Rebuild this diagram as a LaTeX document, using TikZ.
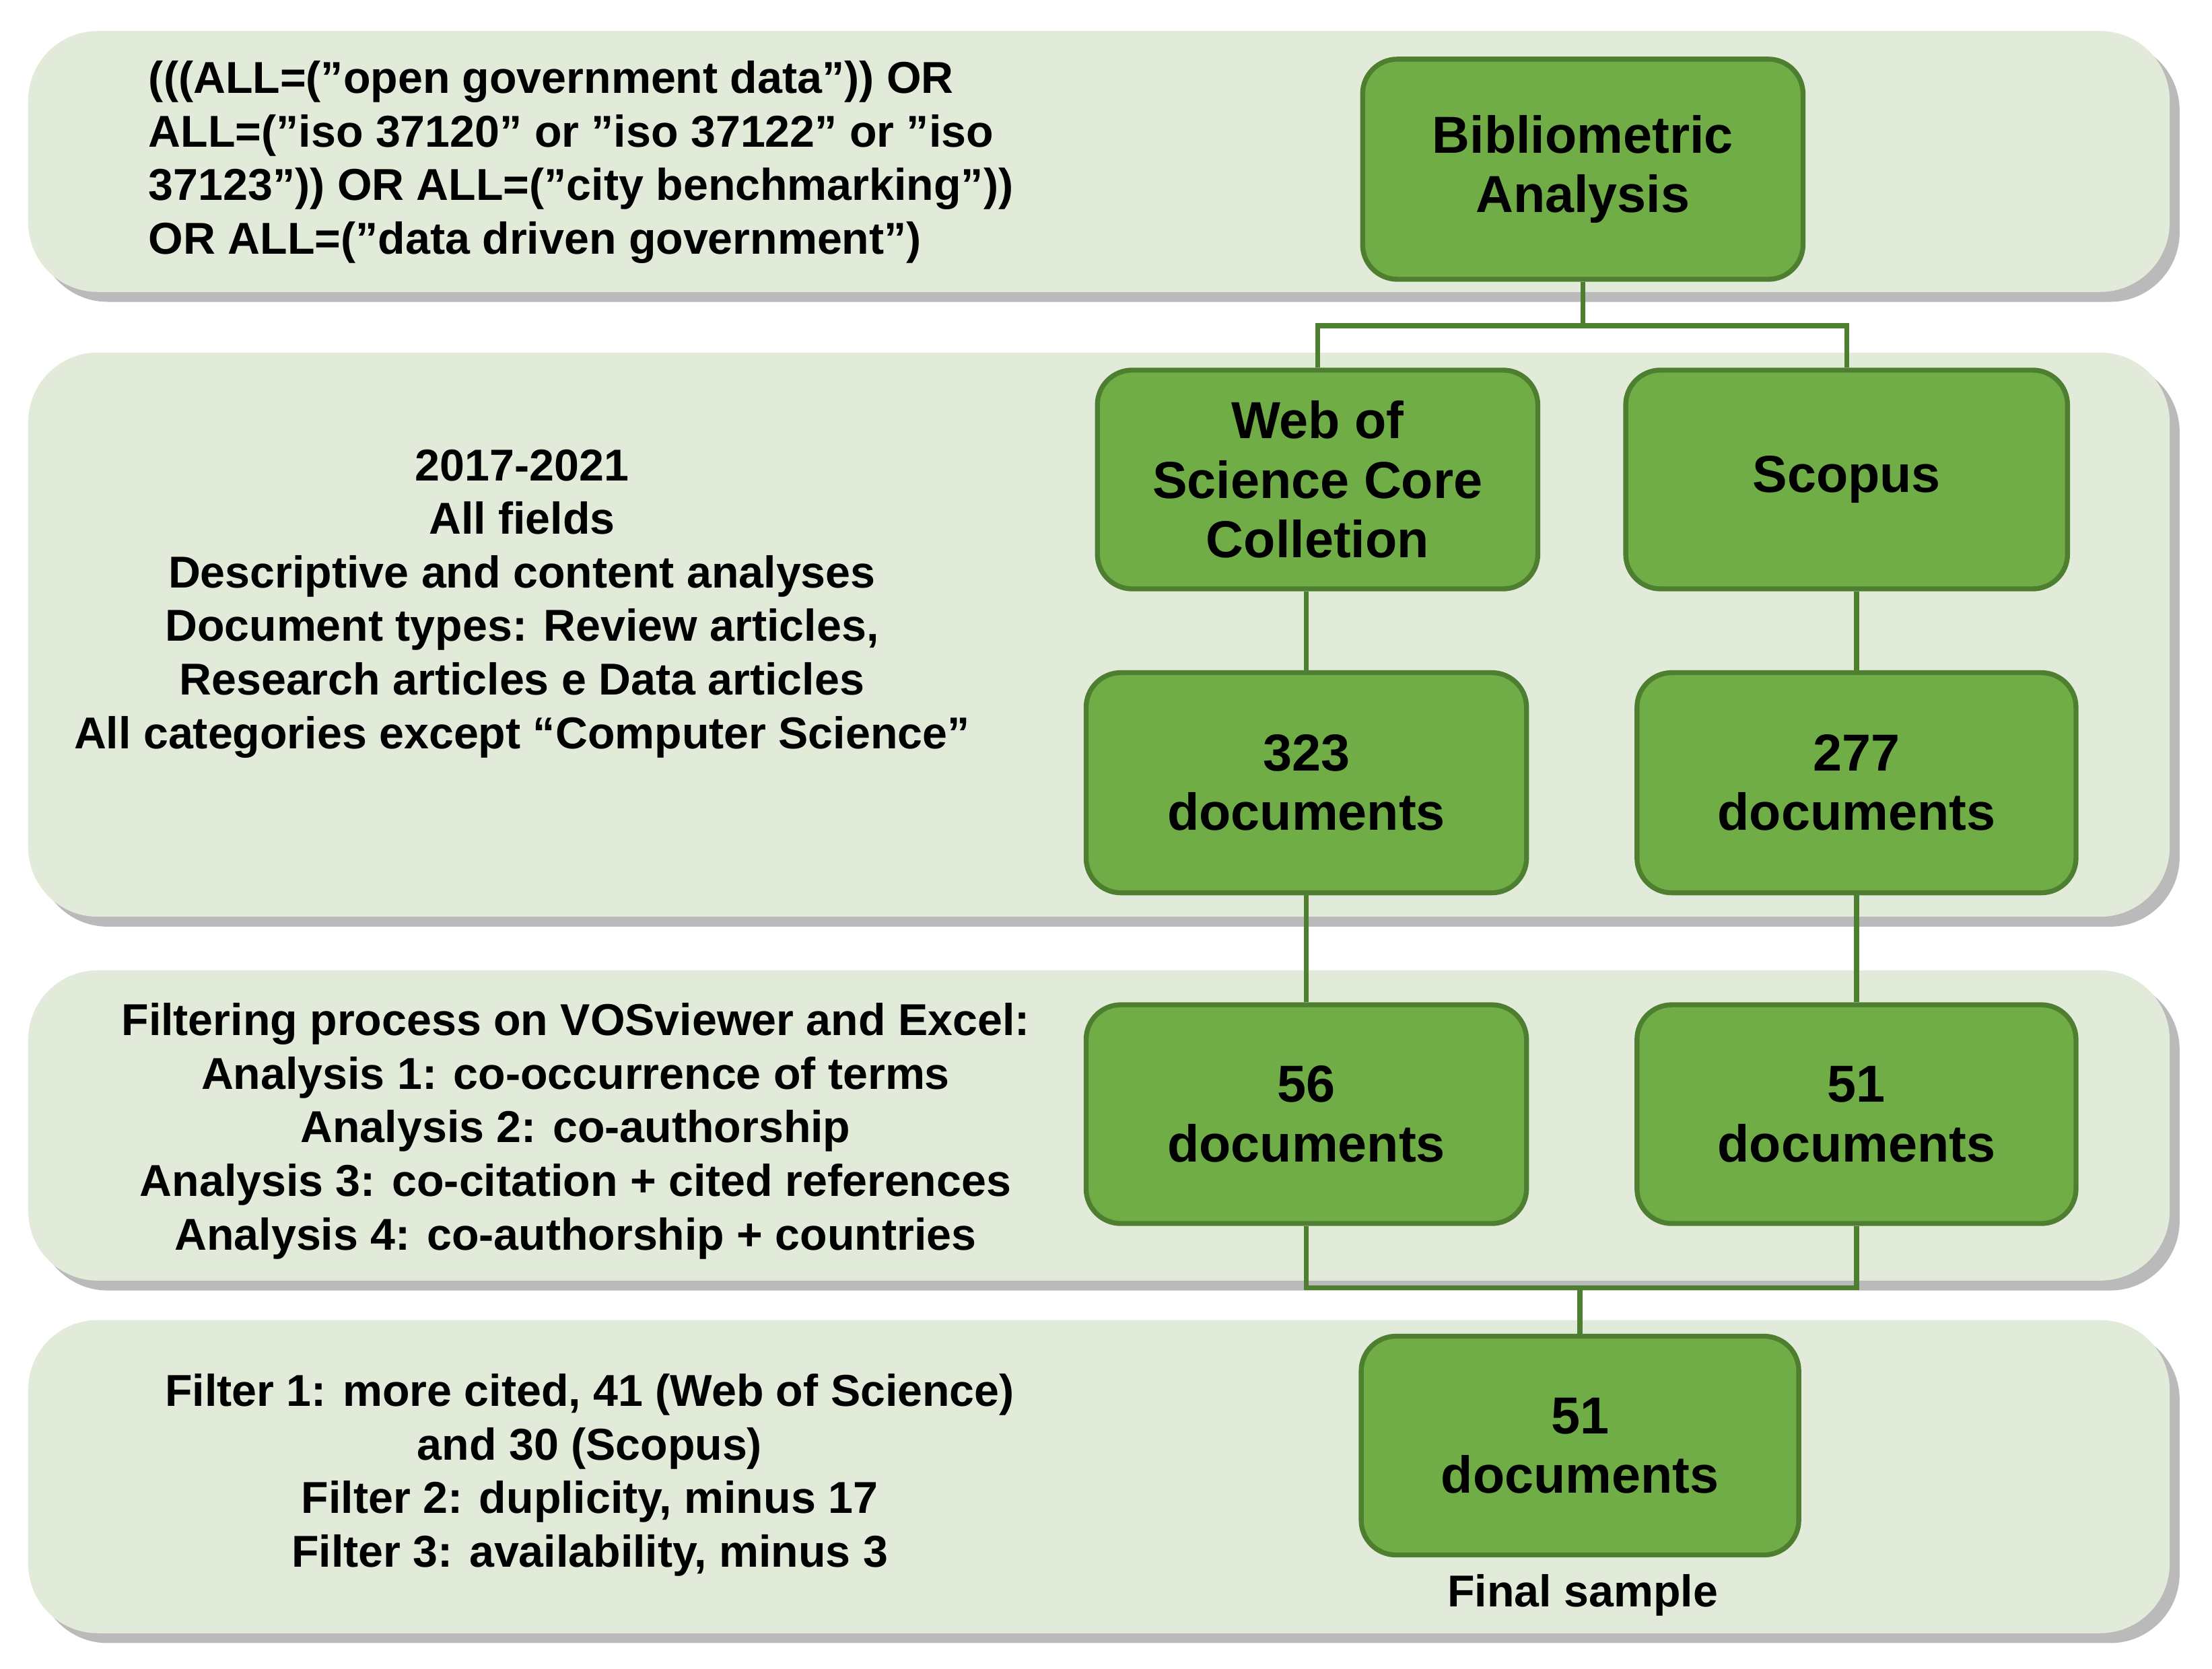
\documentclass[tikz,border=0pt]{standalone}
\usepackage{fontspec}
\setmainfont{Liberation Sans}
\usetikzlibrary{shadows}
\definecolor{band}{HTML}{E2EBD9}
\definecolor{boxf}{HTML}{70AD47}
\definecolor{boxd}{HTML}{4E7F30}
\begin{document}
\begin{tikzpicture}[x=0.01cm,y=-0.01cm,
  band/.style={fill=band,draw=none,rounded corners=14pt,drop shadow={shadow xshift=2pt,shadow yshift=-2pt,fill=black!45,opacity=0.6}},
  box/.style={fill=boxf,draw=boxd,line width=1pt,rounded corners=7pt,minimum width=3.1cm,minimum height=1.55cm,align=center,font=\fontsize{10.5}{12}\selectfont\bfseries,inner sep=1pt},
  lt/.style={align=center,font=\fontsize{9}{10.8}\selectfont\bfseries},
  ln/.style={draw=boxd,line width=1pt}]
\useasboundingbox (0,0) rectangle (1568,1183);
\fill[band] (20,22) rectangle (1538,207);
\fill[band] (20,250) rectangle (1538,650);
\fill[band] (20,688) rectangle (1538,908);
\fill[band] (20,936) rectangle (1538,1158);
\node[lt,align=left,anchor=west] (q) at (93,115) {(((ALL=("open government data")) OR\\ALL=("iso 37120" or "iso 37122" or "iso\\37123")) OR ALL=("city benchmarking"))\\OR ALL=("data driven government")};
\node[lt] (t2) at (370,428) {2017-2021\\All fields\\Descriptive and content analyses\\Document types: Review articles,\\Research articles e Data articles\\All categories except “Computer Science”};
\node[lt] (t3) at (408,802) {Filtering process on VOSviewer and Excel:\\Analysis 1: co-occurrence of terms\\Analysis 2: co-authorship\\Analysis 3: co-citation + cited references\\Analysis 4: co-authorship + countries};
\node[lt] (t4) at (418,1046) {Filter 1: more cited, 41 (Web of Science)\\and 30 (Scopus)\\Filter 2: duplicity, minus 17\\Filter 3: availability, minus 3};
\node[box,minimum width=3.12cm,minimum height=1.56cm] (bib) at (1122,120) {Bibliometric\\Analysis};
\node[box,minimum width=3.12cm] (wos) at (934,340) {Web of\\Science Core\\Colletion};
\node[box,minimum width=3.13cm] (sco) at (1309,340) {Scopus};
\node[box,minimum width=3.12cm,minimum height=1.56cm] (d323) at (926,555) {323\\documents};
\node[box,minimum width=3.11cm,minimum height=1.56cm] (d277) at (1316,555) {277\\documents};
\node[box,minimum width=3.12cm] (d56) at (926,790) {56\\documents};
\node[box,minimum width=3.11cm] (d51) at (1316,790) {51\\documents};
\node[box,minimum width=3.1cm] (fin) at (1120,1025) {51\\documents};
\node[lt] (fs) at (1122,1131) {Final sample};
\coordinate (j1) at (1122,231);
\coordinate (j2) at (1120,913);
\draw[ln] (bib.south) -- (j1) -| (wos.north);
\draw[ln] (j1) -| (sco.north);
\draw[ln] (wos.south -| d323.north) -- (d323.north);
\draw[ln] (sco.south -| d277.north) -- (d277.north);
\draw[ln] (d323) -- (d56);
\draw[ln] (d277) -- (d51);
\draw[ln] (d56.south) |- (j2) -| (d51.south);
\draw[ln] (j2) -- (fin.north);
\end{tikzpicture}
\end{document}
